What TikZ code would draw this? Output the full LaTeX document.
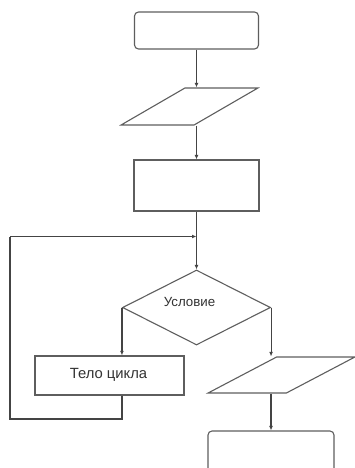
\documentclass[tikz,border=0pt]{standalone}
\usepackage{fontspec}
\setmainfont{Liberation Sans}
\usetikzlibrary{shapes.geometric,arrows.meta}
\definecolor{edge}{HTML}{5E5E5E}
\definecolor{wire}{HTML}{444444}
\tikzset{
  blk/.style={draw=edge, line width=1.1pt, inner sep=0pt, fill=white},
  term/.style={blk, rectangle, rounded corners=4pt},
  proc/.style={blk, rectangle},
  io/.style={blk, inner sep=1pt, trapezium, trapezium left angle=45, trapezium right angle=135, trapezium stretches=true},
  cond/.style={blk, diamond},
  conn/.style={draw=wire, line width=1.1pt, -{Latex[length=4.5pt,width=3.8pt]}},
  wireline/.style={draw=wire, line width=1.1pt},
  lbl/.style={inner sep=0pt, text=black!80}
}
\begin{document}
\begin{tikzpicture}[x=1pt,y=-1pt]
\clip (0,0) rectangle (355,468);
\fill[white] (0,0) rectangle (355,468);
% shapes
\node[term, minimum width=124pt, minimum height=37pt] (start) at (196.5,30.5) {};
\node[io, minimum width=137pt, minimum height=37pt] (in1) at (189.5,106.5) {\strut};
\node[proc, minimum width=125pt, minimum height=51pt] (init) at (196.5,185.5) {};
\node[cond, minimum width=148pt, minimum height=75pt] (dec) at (196.5,307.5) {};
\node[lbl, font=\fontsize{13.3}{15}\selectfont] (declbl) at (189.5,302) {Условие};
\node[proc, minimum width=149pt, minimum height=39pt] (body) at (109.5,375.5) {};
\node[lbl, font=\fontsize{14.8}{16}\selectfont] (bodylbl) at (108.5,374.5) {Тело цикла};
\node[io, minimum width=147pt, minimum height=36pt] (out) at (281.5,375) {\strut};
\node[term, minimum width=126pt, minimum height=46pt] (stop) at (271,454) {};
% junction and loop corners
\coordinate (join) at (196.5,236.5);
\coordinate (lpA) at (122,419);
\coordinate (lpB) at (10,419);
\coordinate (lpC) at (10,236.5);
% connectors
\draw[conn] (start.south) -- (start.south |- in1.north);
\draw[conn] (init.north |- in1.south) -- (init.north);
\draw[wireline] (init.south) -- (join);
\draw[conn] (join) -- (dec.north);
\draw[conn] (dec.west) -- (dec.west |- body.north);
\draw[conn] (dec.east) -- (dec.east |- out.north);
\draw[conn] (stop.north |- out.south) -- (stop.north);
\draw[wireline] (lpA |- body.south) -- (lpA) -- (lpB) -- (lpC);
\draw[conn] (lpC) -- (join);
\end{tikzpicture}
\end{document}
